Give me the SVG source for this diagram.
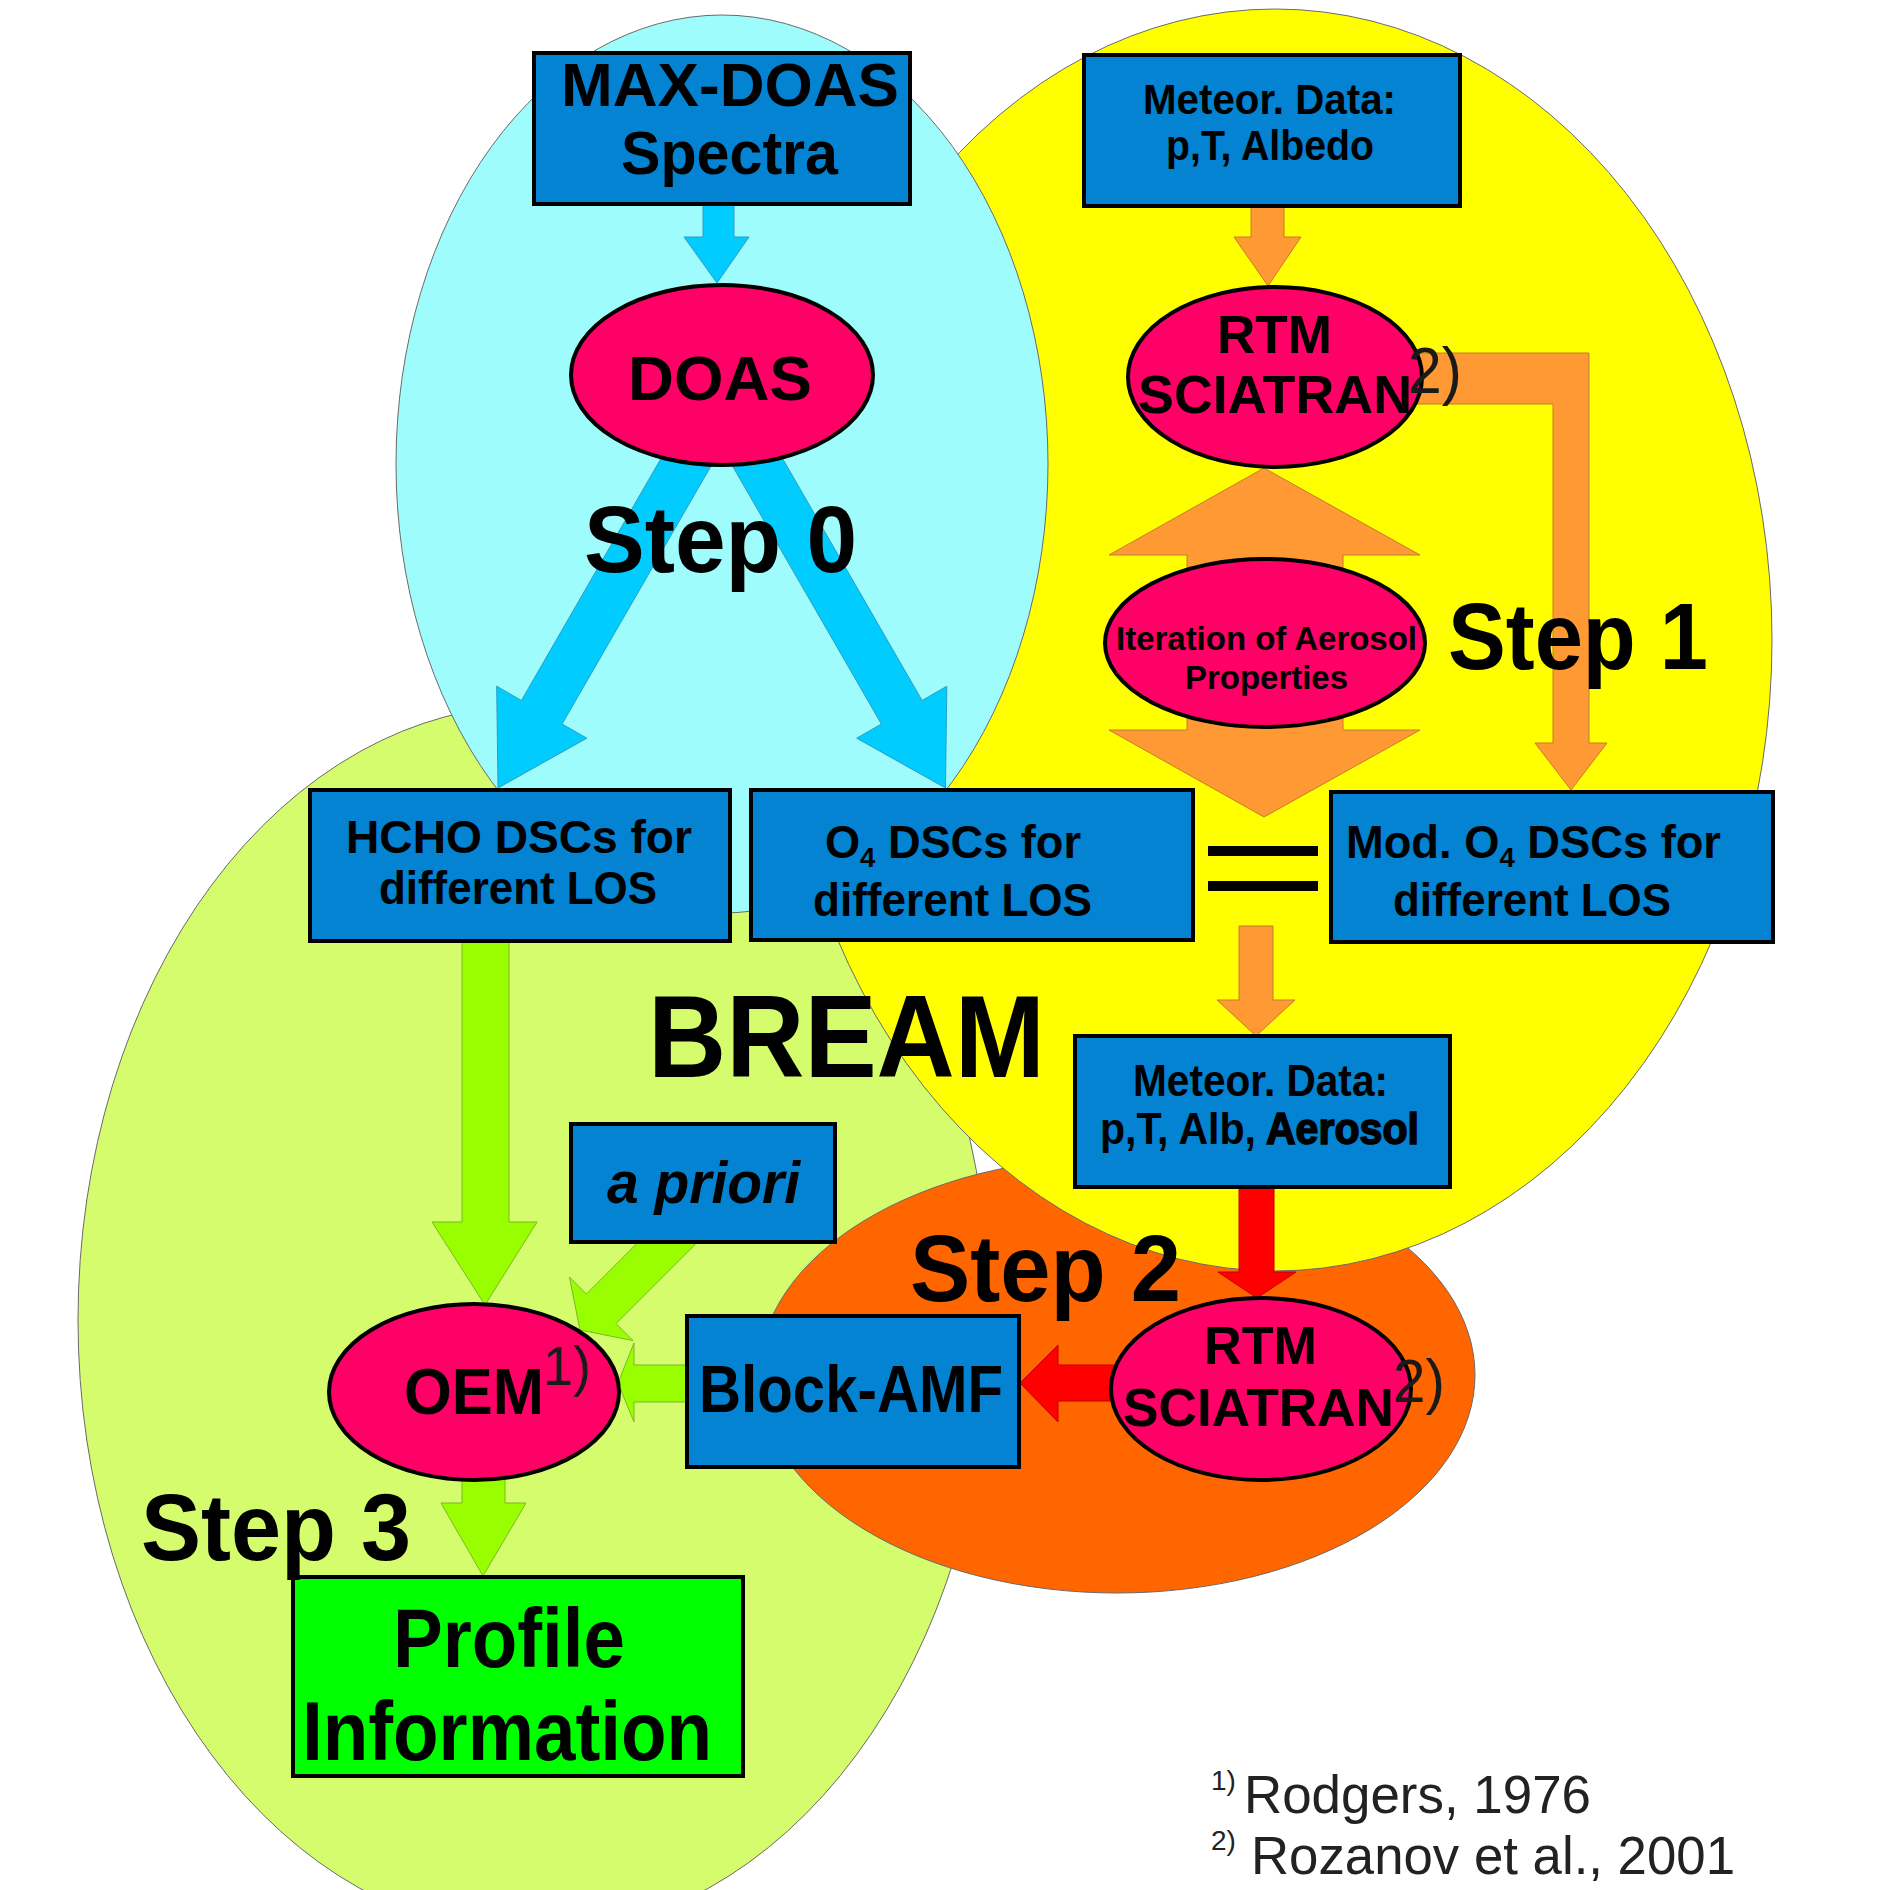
<svg xmlns="http://www.w3.org/2000/svg" width="1887" height="1890" viewBox="0 0 1887 1890">
<style>
.bg{stroke:#6a6a6a;stroke-width:1}
.box{fill:#0383d1;stroke:#000;stroke-width:4}
.ell{fill:#ff0066;stroke:#000;stroke-width:4}
.t{font-family:"Liberation Sans",Arial,sans-serif;font-weight:bold;fill:#000}
.ref{font-family:"Liberation Sans",Arial,sans-serif;font-weight:normal;fill:#1a1a1a}
.foot{font-family:"Liberation Sans",Arial,sans-serif;fill:#222}
.cy{fill:#00ccff;stroke:#2a9fc0;stroke-width:1}
.or{fill:#ff9933;stroke:#c87a2a;stroke-width:1}
.gr{fill:#99ff00;stroke:#77bb22;stroke-width:1}
.rd{fill:#ff0000;stroke:#c00000;stroke-width:1}
</style>
<rect width="1887" height="1890" fill="#fff"/>
<g id="backgrounds">
<ellipse class="bg" cx="534" cy="1320" rx="456" ry="615" fill="#d4fc6c"/>
<ellipse class="bg" cx="1117" cy="1375" rx="358" ry="218" fill="#ff6600"/>
<ellipse class="bg" cx="1275" cy="640" rx="497" ry="631" fill="#ffff00"/>
<ellipse class="bg" cx="722" cy="464" rx="326" ry="449" fill="#9ffcfc"/>
</g>
<g id="connectors">
<polygon class="cy" points="703,200 734,200 734,237 749,237 717,283 684,237 703,237"/>
<polygon class="cy" points="719.2,451.8 562.1,724 586.8,738.2 498,788 496.7,686.2 521.4,700.5 678.4,428.3"/>
<polygon class="cy" points="724.3,451.8 881.4,724 856.7,738.2 945.5,788 946.8,686.2 922.1,700.5 765.1,428.3"/>
<polygon class="or" points="1251,200 1284,200 1284,237 1301,237 1268,286 1234,237 1251,237"/>
<polygon class="or" points="1400,353 1589,353 1589,743 1607,743 1571,790 1535,743 1553,743 1553,404 1400,404"/>
<polygon class="or" points="1264,468 1420,555 1343,555 1343,730 1420,730 1264,817 1109,730 1187,730 1187,555 1109,555"/>
<polygon class="or" points="1239,926 1273,926 1273,1000 1295,1000 1256,1036 1217,1000 1239,1000"/>
<polygon class="rd" points="1239,1185 1274,1185 1274,1272 1296,1272 1257,1298 1218,1272 1239,1272"/>
<polygon class="rd" points="1115,1365 1058,1365 1058,1345 1020,1383 1058,1422 1058,1401 1115,1401"/>
<polygon class="gr" points="462,940 509,940 509,1222 537,1222 485,1305 432,1222 462,1222"/>
<polygon class="gr" points="700.8,1238.8 616,1323.6 633,1340.6 580,1330 569.4,1277 586.4,1294 671.2,1209.2"/>
<polygon class="gr" points="692,1365 634,1365 634,1343 618,1383 634,1422 634,1402 692,1402"/>
<polygon class="gr" points="462,1465 505,1465 505,1503 526,1503 483,1576 441,1503 462,1503"/>
<rect x="1208" y="846" width="110" height="10" fill="#000"/>
<rect x="1208" y="881" width="110" height="10" fill="#000"/>
</g>
<g id="maxdoas">
<rect class="box" x="534" y="53" width="376" height="151"/>
<text class="t" x="561" y="106" font-size="62" textLength="338" lengthAdjust="spacingAndGlyphs">MAX-DOAS</text>
<text class="t" x="621" y="174" font-size="62" textLength="217" lengthAdjust="spacingAndGlyphs">Spectra</text>
</g>
<g id="meteor1">
<rect class="box" x="1084" y="55" width="376" height="151"/>
<text class="t" x="1143" y="114" font-size="42" textLength="253" lengthAdjust="spacingAndGlyphs">Meteor. Data:</text>
<text class="t" x="1166" y="160" font-size="42" textLength="208" lengthAdjust="spacingAndGlyphs">p,T, Albedo</text>
</g>
<g id="doas">
<ellipse class="ell" cx="722" cy="375" rx="151" ry="90"/>
<text class="t" x="628" y="400" font-size="63" textLength="184" lengthAdjust="spacingAndGlyphs">DOAS</text>
</g>
<g id="rtm1">
<ellipse class="ell" cx="1275" cy="377" rx="147" ry="90"/>
<text class="t" x="1217" y="353" font-size="53" textLength="115" lengthAdjust="spacingAndGlyphs">RTM</text>
<text class="t" x="1138" y="413" font-size="53" textLength="274" lengthAdjust="spacingAndGlyphs">SCIATRAN</text>
<text class="ref" x="1408" y="393" font-size="64" textLength="54" lengthAdjust="spacingAndGlyphs">2)</text>
</g>
<g id="iteration">
<ellipse class="ell" cx="1265" cy="643" rx="160" ry="84"/>
<text class="t" x="1116" y="650" font-size="34" textLength="301" lengthAdjust="spacingAndGlyphs">Iteration of Aerosol</text>
<text class="t" x="1185" y="689" font-size="34" textLength="163" lengthAdjust="spacingAndGlyphs">Properties</text>
</g>
<g id="hcho">
<rect class="box" x="310" y="790" width="420" height="151"/>
<text class="t" x="346" y="853" font-size="46" textLength="346" lengthAdjust="spacingAndGlyphs">HCHO DSCs for</text>
<text class="t" x="379" y="904" font-size="46" textLength="278" lengthAdjust="spacingAndGlyphs">different LOS</text>
</g>
<g id="o4">
<rect class="box" x="751" y="790" width="442" height="150"/>
<text class="t" x="825" y="858" font-size="46" textLength="256" lengthAdjust="spacingAndGlyphs">O<tspan font-size="28" dy="9">4</tspan><tspan dy="-9"> DSCs for</tspan></text>
<text class="t" x="813" y="916" font-size="46" textLength="279" lengthAdjust="spacingAndGlyphs">different LOS</text>
</g>
<g id="modo4">
<rect class="box" x="1331" y="792" width="442" height="150"/>
<text class="t" x="1346" y="858" font-size="46" textLength="375" lengthAdjust="spacingAndGlyphs">Mod. O<tspan font-size="28" dy="9">4</tspan><tspan dy="-9"> DSCs for</tspan></text>
<text class="t" x="1393" y="916" font-size="46" textLength="278" lengthAdjust="spacingAndGlyphs">different LOS</text>
</g>
<g id="meteor2">
<rect class="box" x="1075" y="1036" width="375" height="151"/>
<text class="t" x="1133" y="1096" font-size="44" textLength="255" lengthAdjust="spacingAndGlyphs">Meteor. Data:</text>
<text class="t" x="1100" y="1144" font-size="44" textLength="319" lengthAdjust="spacingAndGlyphs">p,T, Alb, <tspan stroke="#000" stroke-width="1.6">Aerosol</tspan></text>
</g>
<g id="apriori">
<rect class="box" x="571" y="1124" width="264" height="118"/>
<text class="t" x="607" y="1203" font-size="60" font-style="italic" textLength="193" lengthAdjust="spacingAndGlyphs">a priori</text>
</g>
<g id="rtm2">
<ellipse class="ell" cx="1261" cy="1389" rx="150" ry="91"/>
<text class="t" x="1204" y="1364" font-size="53" textLength="113" lengthAdjust="spacingAndGlyphs">RTM</text>
<text class="t" x="1123" y="1426" font-size="53" textLength="271" lengthAdjust="spacingAndGlyphs">SCIATRAN</text>
<text class="ref" x="1393" y="1402" font-size="62" textLength="52" lengthAdjust="spacingAndGlyphs">2)</text>
</g>
<g id="blockamf">
<rect class="box" x="687" y="1316" width="332" height="151"/>
<text class="t" x="699" y="1412" font-size="66" textLength="304" lengthAdjust="spacingAndGlyphs">Block-AMF</text>
</g>
<g id="oem">
<ellipse class="ell" cx="474" cy="1392" rx="145" ry="88"/>
<text class="t" x="404" y="1414" font-size="64" textLength="140" lengthAdjust="spacingAndGlyphs">OEM</text>
<text class="ref" x="543" y="1385" font-size="56" textLength="48" lengthAdjust="spacingAndGlyphs">1)</text>
</g>
<g id="profile">
<rect x="293" y="1577" width="450" height="199" fill="#00ff00" stroke="#000" stroke-width="4"/>
<text class="t" x="393" y="1667" font-size="84" textLength="232" lengthAdjust="spacingAndGlyphs">Profile</text>
<text class="t" x="302" y="1760" font-size="84" textLength="410" lengthAdjust="spacingAndGlyphs">Information</text>
</g>
<g id="labels">
<text class="t" x="584" y="572" font-size="95" textLength="273" lengthAdjust="spacingAndGlyphs">Step 0</text>
<text class="t" x="1448" y="669" font-size="95" textLength="260" lengthAdjust="spacingAndGlyphs">Step 1</text>
<text class="t" x="910" y="1301" font-size="95" textLength="271" lengthAdjust="spacingAndGlyphs">Step 2</text>
<text class="t" x="141" y="1560" font-size="95" textLength="270" lengthAdjust="spacingAndGlyphs">Step 3</text>
<text class="t" x="648" y="1077" font-size="116" textLength="397" lengthAdjust="spacingAndGlyphs">BREAM</text>
</g>
<g id="footnotes">
<text class="foot" x="1211" y="1790" font-size="28">1)</text>
<text class="foot" x="1244" y="1813" font-size="53" textLength="347" lengthAdjust="spacingAndGlyphs">Rodgers, 1976</text>
<text class="foot" x="1211" y="1850" font-size="28">2)</text>
<text class="foot" x="1251" y="1874" font-size="53" textLength="484" lengthAdjust="spacingAndGlyphs">Rozanov et al., 2001</text>
</g>
</svg>
